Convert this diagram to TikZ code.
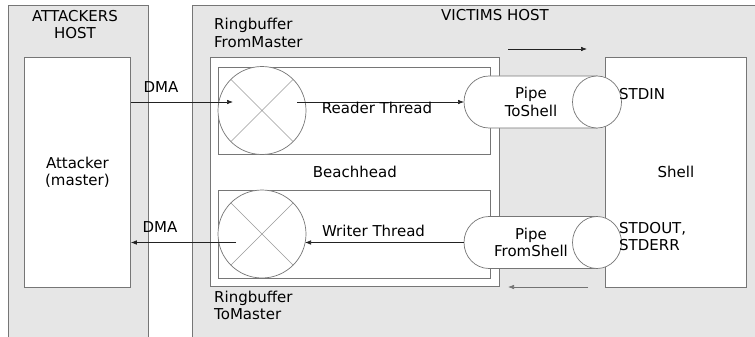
\documentclass[tikz,border=0pt]{standalone}
\usepackage{fontspec}
\setmainfont{DejaVu Sans}
\usetikzlibrary{arrows.meta,calc}
\definecolor{hostgray}{HTML}{E6E6E6}
\definecolor{bordergray}{HTML}{767676}
\definecolor{crossgray}{HTML}{9A9A9A}
\definecolor{linedark}{HTML}{222222}
\begin{document}
\begin{tikzpicture}[x=1pt,y=-1pt,
  every node/.style={font=\fontsize{15}{17.5}\selectfont, inner sep=0pt, align=center},
  hostbox/.style={draw=bordergray, fill=hostgray, line width=0.8pt, anchor=north west},
  whitebox/.style={draw=bordergray, fill=white, line width=0.8pt, anchor=north west},
  ringbuf/.style={draw=bordergray, fill=white, line width=0.7pt, circle, minimum size=88pt},
  crossline/.style={draw=crossgray, line width=0.6pt},
  pipebody/.style={draw=bordergray, fill=white, line width=0.7pt},
  arr/.style={draw=linedark, line width=0.6pt, -{Latex[length=6pt,width=4.5pt]}},
  leftlabel/.style={anchor=west, align=left}
]
\useasboundingbox (0,0) rectangle (755,337);

% hosts
\node[hostbox, minimum width=140pt, minimum height=340pt] (ahost) at (8,5) {};
\node[hostbox, minimum width=570pt, minimum height=340pt] (vhost) at (192,5) {};
\node (ahostlbl) at (75,24.5) {ATTACKERS\\HOST};
\node (vhostlbl) at (495,15) {VICTIMS HOST};

% attacker
\node[whitebox, minimum width=106pt, minimum height=230pt] (attacker) at (24,57) {Attacker\\(master)};

% beachhead
\node[whitebox, minimum width=289pt, minimum height=229pt] (beach) at (210,57) {Beachhead};
\node[whitebox, minimum width=272pt, minimum height=87pt] (rbinbox) at (218,67) {};
\node[whitebox, minimum width=272pt, minimum height=88pt] (rboutbox) at (218,190) {};

% shell
\node[whitebox, minimum width=141pt, minimum height=230pt] (shell) at (605,57) {Shell};

% ring buffers
\node[ringbuf] (rbin) at (262,110.5) {};
\draw[crossline] (rbin.north west) -- (rbin.south east) (rbin.north east) -- (rbin.south west);
\node[ringbuf] (rbout) at (262,234) {};
\draw[crossline] (rbout.north west) -- (rbout.south east) (rbout.north east) -- (rbout.south west);

\node[leftlabel] (rbinlbl) at (214,33) {Ringbuffer\\FromMaster};
\node[leftlabel] (rboutlbl) at (214,305.5) {Ringbuffer\\ToMaster};

% pipes
\path[pipebody] (597,76) -- (489,76) arc[start angle=270, end angle=90, x radius=25, y radius=26] -- (597,128) -- cycle;
\path[pipebody] (597,102) ellipse[x radius=24.5, y radius=26];
\node (pin) at (531,102) {Pipe\\ToShell};
\coordinate (pinL) at (464,102);

\path[pipebody] (597,216.5) -- (489,216.5) arc[start angle=270, end angle=90, x radius=25, y radius=26] -- (597,268.5) -- cycle;
\path[pipebody] (597,242.5) ellipse[x radius=24.5, y radius=26];
\node (pout) at (531,242.5) {Pipe\\FromShell};
\coordinate (poutL) at (464,242.5);

% shell labels
\node[leftlabel] (stdin) at (619,94) {STDIN};
\node[leftlabel] (stdout) at (619,236.5) {STDOUT,\\STDERR};

% connectors
\coordinate (rbinIn) at (233,102);
\coordinate (rbinOut) at (297,102);
\coordinate (rboutIn) at (305,242.5);
\coordinate (rboutOut) at (236,242.5);
\draw[arr] (attacker.east |- pinL) -- (rbinIn);
\draw[arr] (rbinOut) -- (pinL);
\draw[arr] (poutL) -- (rboutIn);
\draw[arr] (rboutOut) -- (attacker.east |- poutL);

\node (dma1) at (161,87.5) {DMA};
\node (dma2) at (160,227.5) {DMA};
\node (rdr) at (377,108) {Reader Thread};
\node (wrt) at (373.5,231) {Writer Thread};

% flow arrows
\coordinate (flowA1) at (508,49);
\coordinate (flowA2) at (587,49);
\coordinate (flowB1) at (588,287);
\coordinate (flowB2) at (508,287);
\draw[arr] (flowA1) -- (flowA2);
\draw[arr, draw=black!55] (flowB1) -- (flowB2);
\end{tikzpicture}
\end{document}
